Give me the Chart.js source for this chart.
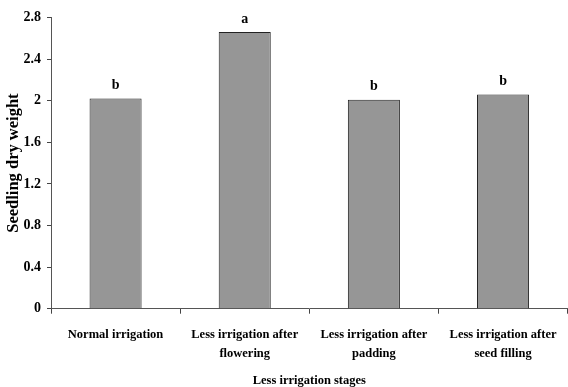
<!DOCTYPE html>
<html>
<head>
<meta charset="utf-8">
<title>Seedling dry weight by irrigation stage</title>
<script src="https://cdn.jsdelivr.net/npm/chart.js@4/dist/chart.umd.min.js"></script>
<style>
  html, body { margin: 0; padding: 0; background: #ffffff; }
  #wrap { width: 568px; height: 387px; }
</style>
</head>
<body>
<div id="wrap"><canvas id="chart" width="568" height="387"></canvas></div>
<script>
// Treatments (multi-line category labels)
const categories = [
  ['Normal irrigation'],
  ['Less irrigation after', 'flowering'],
  ['Less irrigation after', 'padding'],
  ['Less irrigation after', 'seed filling']
];
// Mean seedling dry weight per treatment
const dryWeight = [2.02, 2.66, 2.01, 2.06];
// Mean-separation letters shown above each bar
const groupLetters = ['b', 'a', 'b', 'b'];
// Y-axis tick values
const yTicks = [0, 0.4, 0.8, 1.2, 1.6, 2, 2.4, 2.8];

const SERIF = '"Liberation Serif", "Times New Roman", Times, serif';

// Draws the significance letter above each bar
const letterPlugin = {
  id: 'groupLetters',
  afterDatasetsDraw(chart) {
    const ctx = chart.ctx;
    const meta = chart.getDatasetMeta(0);
    ctx.save();
    ctx.font = 'bold 14px ' + SERIF;
    ctx.fillStyle = '#000000';
    ctx.textAlign = 'center';
    ctx.textBaseline = 'alphabetic';
    meta.data.forEach((bar, i) => {
      ctx.fillText(groupLetters[i], bar.x, bar.y - 9.5);
    });
    ctx.restore();
  }
};

new Chart(document.getElementById('chart'), {
  type: 'bar',
  data: {
    labels: categories,
    datasets: [{
      data: dryWeight,
      backgroundColor: '#969696',
      borderColor: '#222222',
      borderWidth: 1,
      borderSkipped: 'start',
      categoryPercentage: 1,
      barPercentage: 0.403
    }]
  },
  options: {
    responsive: false,
    devicePixelRatio: 1,
    animation: false,
    layout: { padding: { top: 17.5, right: 0, bottom: 0, left: 0 } },
    plugins: {
      legend: { display: false },
      tooltip: { enabled: false }
    },
    scales: {
      x: {
        offset: true,
        grid: {
          offset: true,
          drawOnChartArea: false,
          drawTicks: true,
          tickLength: 5,
          color: '#444444'
        },
        border: { display: true, color: '#555555', width: 1 },
        ticks: {
          color: '#000000',
          font: { family: SERIF, size: 12.5, weight: 'bold', lineHeight: 1.5 },
          padding: 11.5,
          maxRotation: 0,
          minRotation: 0,
          autoSkip: false
        },
        title: {
          display: true,
          text: 'Less irrigation stages',
          color: '#000000',
          font: { family: SERIF, size: 12.5, weight: 'bold', lineHeight: 1 },
          padding: { top: 0, bottom: 0 }
        },
        afterFit(scale) { scale.height = 78.3; }
      },
      y: {
        min: 0,
        max: 2.8,
        afterBuildTicks(scale) {
          scale.ticks = yTicks.map(v => ({ value: v }));
        },
        grid: {
          drawOnChartArea: false,
          drawTicks: true,
          tickLength: 4,
          color: '#444444'
        },
        border: { display: true, color: '#555555', width: 1 },
        ticks: {
          color: '#000000',
          font: { family: SERIF, size: 14, weight: 'bold' },
          padding: 6,
          callback: (v) => String(v)
        },
        title: {
          display: true,
          text: 'Seedling dry weight',
          color: '#000000',
          font: { family: SERIF, size: 16.5, weight: 'bold', lineHeight: 1 },
          padding: { top: 5, bottom: 0 }
        },
        afterFit(scale) { scale.width = 51; }
      }
    }
  },
  plugins: [letterPlugin]
});
</script>
</body>
</html>
